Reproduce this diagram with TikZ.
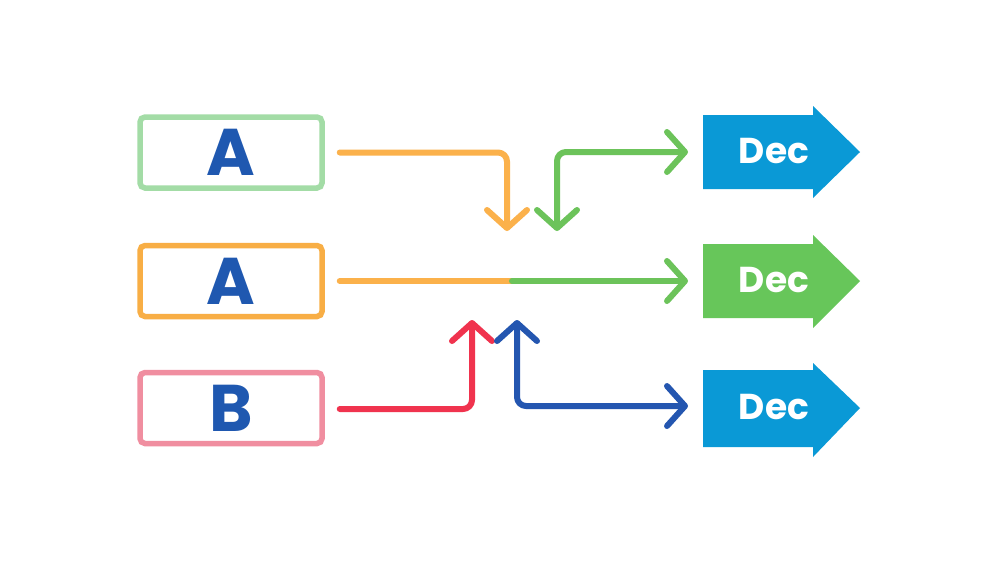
\documentclass[tikz,border=0pt]{standalone}
\usepackage{fontspec}
\setmainfont{Poppins}
\usetikzlibrary{arrows.meta}
\definecolor{boxgreen}{HTML}{A3DCA6}
\definecolor{boxorange}{HTML}{F8AE45}
\definecolor{boxpink}{HTML}{F08EA0}
\definecolor{letterblue}{HTML}{1F58B0}
\definecolor{lnorange}{HTML}{FBB14B}
\definecolor{lngreen}{HTML}{6CC35A}
\definecolor{lnred}{HTML}{F0334E}
\definecolor{lnblue}{HTML}{2456B0}
\definecolor{decblue}{HTML}{0A99D6}
\definecolor{decgreen}{HTML}{67C65A}
\tikzset{
  srcbox/.style={draw, line width=5.5pt, rounded corners=5pt, minimum width=182pt,
    minimum height=71pt, inner sep=0pt, text=letterblue, font=\fontsize{66}{66}\selectfont\bfseries},
  declabel/.style={text=white, inner sep=0pt, font=\fontsize{36}{36}\selectfont\bfseries},
  conn/.style={line width=6pt, line cap=round, line join=round, rounded corners=9pt},
  tip/.style={-{Straight Barb[length=18pt, width=40pt, round]}},
  tips/.style={{Straight Barb[length=18pt, width=40pt, round]}-{Straight Barb[length=18pt, width=40pt, round]}}
}
\begin{document}
\begin{tikzpicture}[x=1pt, y=-1pt]
\useasboundingbox (0,0) rectangle (1000,563);
\fill[white] (0,0) rectangle (1000,563);

% source boxes
\node[srcbox, draw=boxgreen] (a1) at (231,152.5) {A};
\node[srcbox, draw=boxorange] (a2) at (231,281) {A};
\node[srcbox, draw=boxpink] (b) at (231,408) {B};

% Dec arrows
\fill[decblue] (703,115) -- (813,115) -- (813,106) -- (860,152) -- (813,198) -- (813,189) -- (703,189) -- cycle;
\fill[decgreen] (703,244) -- (813,244) -- (813,235) -- (860,281) -- (813,328) -- (813,318) -- (703,318) -- cycle;
\fill[decblue] (703,370) -- (813,370) -- (813,363) -- (860,408) -- (813,457) -- (813,447) -- (703,447) -- cycle;
\node[declabel] (d1) at (774,151) {Dec};
\node[declabel] (d2) at (774,280) {Dec};
\node[declabel] (d3) at (774,407) {Dec};

% connector end points
\coordinate (od) at (507,231);
\coordinate (gd) at (557,231);
\coordinate (t1) at (688,152);
\coordinate (mj) at (512,281);
\coordinate (t2) at (688,281);
\coordinate (ru) at (472,320);
\coordinate (bu) at (517,320);
\coordinate (t3) at (688,406);

% connectors
\draw[conn, lnorange, tip] ([xshift=15pt]a1.east) -| (od);
\draw[conn, lngreen, tips] (gd) |- (t1);
\draw[conn, lnorange] ([xshift=15pt]a2.east) -- (mj);
\draw[conn, lngreen, tip] (mj) -- (t2);
\draw[conn, lnred, tip] ([xshift=15pt, yshift=-1pt]b.east) -| (ru);
\draw[conn, lnblue, tips] (bu) |- (t3);
\end{tikzpicture}
\end{document}
